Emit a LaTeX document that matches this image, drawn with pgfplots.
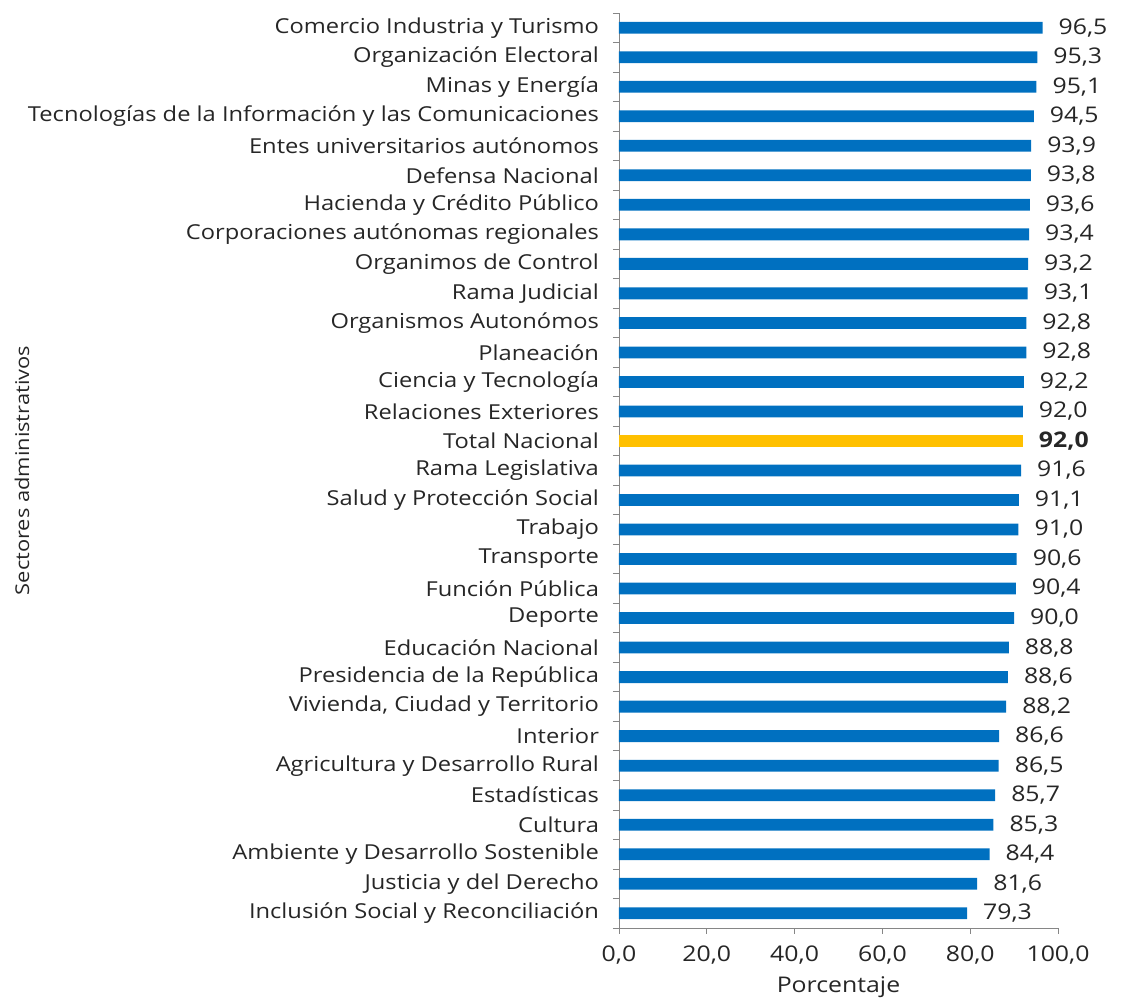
\documentclass[border=0pt]{standalone}
\usepackage{pgfplots}
\pgfplotsset{compat=1.18}
\usepackage{fontspec}
\setmainfont[FakeStretch=1.15]{Open Sans}
\definecolor{barblue}{HTML}{0070C0}
\definecolor{baryellow}{HTML}{FFC000}
\definecolor{axgray}{HTML}{868686}
\definecolor{txt}{HTML}{262626}
\begin{document}
\begin{tikzpicture}
\begin{axis}[
  scale only axis,
  width=219.5pt, height=457.5pt,
  xbar, bar width=5.9pt, bar shift=0pt,
  xmin=0, xmax=100,
  ymin=-0.5, ymax=30.5,
  axis x line*=bottom, axis y line*=left,
  axis line style={axgray},
  every tick/.style={axgray},
  xtick={0,20,40,60,80,100},
  /pgf/number format/use comma,
  /pgf/number format/fixed,
  /pgf/number format/fixed zerofill,
  /pgf/number format/precision=1,
  /pgf/number format/assume math mode=true,
  xticklabel style={font=\fontsize{10.8}{12}\selectfont, text=txt, yshift=-2.5pt},
  major tick length=3pt,
  tick align=outside,
  ytick={0,...,30},
  y tick style={draw=none},
  yticklabels={
    Inclusión Social y Reconciliación,
    Justicia y del Derecho,
    Ambiente y Desarrollo Sostenible,
    Cultura,
    Estadísticas,
    Agricultura y Desarrollo Rural,
    Interior,
    {Vivienda, Ciudad y Territorio},
    Presidencia de la República,
    Educación Nacional,
    Deporte,
    Función Pública,
    Transporte,
    Trabajo,
    Salud y Protección Social,
    Rama Legislativa,
    Total Nacional,
    Relaciones Exteriores,
    Ciencia y Tecnología,
    Planeación,
    Organismos Autonómos,
    Rama Judicial,
    Organimos de Control,
    Corporaciones autónomas regionales,
    Hacienda y Crédito Público,
    Defensa Nacional,
    Entes universitarios autónomos,
    Tecnologías de la Información y las Comunicaciones,
    Minas y Energía,
    Organización Electoral,
    Comercio Industria y Turismo},
  yticklabel style={font=\fontsize{10.3}{12}\selectfont, text=txt, xshift=-3.5pt},
  extra y ticks={-0.5,0.5,...,30.5},
  extra y tick labels={},
  extra y tick style={y tick style={draw=axgray}, major tick length=3pt},
  xlabel={Porcentaje},
  xlabel style={font=\fontsize{10.8}{12}\selectfont, text=txt, yshift=1pt},
  ylabel={Sectores administrativos},
  ylabel style={font=\fontsize{9.5}{11}\selectfont, text=txt, at={(axis description cs:-1.36,0.5)}, anchor=center},
  nodes near coords,
  nodes near coords align={horizontal},
  every node near coord/.append style={font=\fontsize{10.8}{12}\selectfont, text=txt, xshift=4.5pt},
  clip=false,
]
\addplot[fill=barblue, draw=none] coordinates {
(79.3,0) (81.6,1) (84.4,2) (85.3,3) (85.7,4) (86.5,5) (86.6,6) (88.2,7) (88.6,8) (88.8,9)
(90.0,10) (90.4,11) (90.6,12) (91.0,13) (91.1,14) (91.6,15)
(92.0,17) (92.2,18) (92.8,19) (92.8,20) (93.1,21) (93.2,22) (93.4,23) (93.6,24) (93.8,25)
(93.9,26) (94.5,27) (95.1,28) (95.3,29) (96.5,30)
};
\addplot[fill=baryellow, draw=none, every node near coord/.append style={font=\fontsize{10.8}{12}\selectfont\bfseries}] coordinates {
(92.0,16)
};
\coordinate (O) at (rel axis cs:0,0);
\coordinate (T) at (rel axis cs:1,1);
\end{axis}
\pgfresetboundingbox
\path ([xshift=-309.5pt,yshift=-35.5pt]O) rectangle ([xshift=43pt,yshift=6.5pt]T);
\end{tikzpicture}
\end{document}
